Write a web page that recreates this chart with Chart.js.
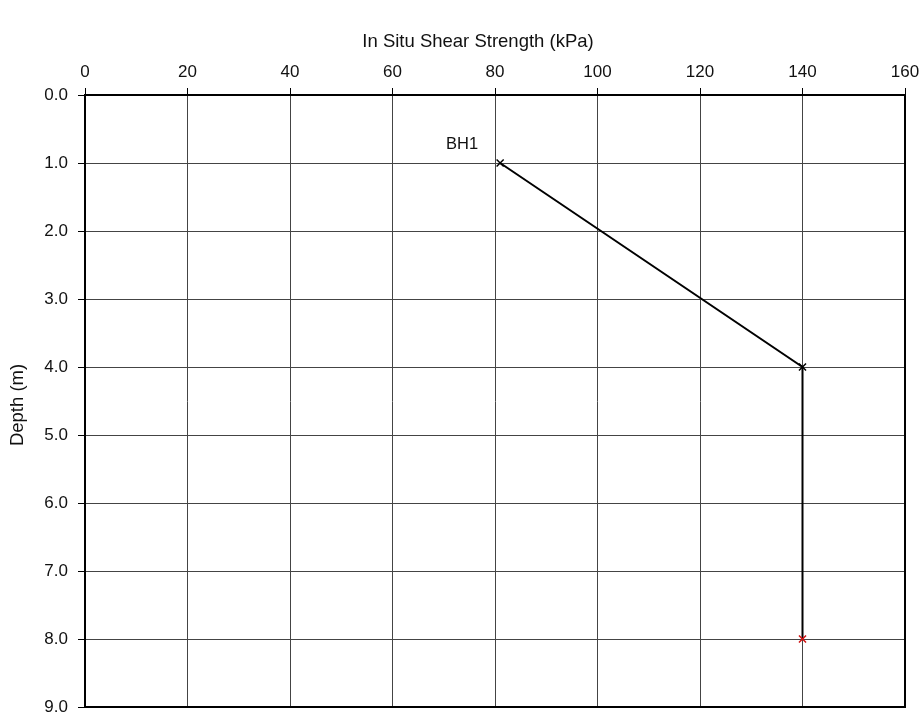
<!DOCTYPE html>
<html>
<head>
<meta charset="utf-8">
<script src="https://cdn.jsdelivr.net/npm/chart.js@4.4.1/dist/chart.umd.min.js"></script>
<style>
  html, body { margin: 0; padding: 0; background: #fff; }
  #wrap { width: 921px; height: 717px; }
</style>
</head>
<body>
<div id="wrap"><canvas id="c" width="921" height="717"></canvas></div>
<script>
// Borehole BH1: shear strength vs depth
const boreholeName = 'BH1';
const depthM = [1.0, 4.0, 8.0];
const strengthKPa = [81, 140, 140];
const markerColors = ['#000000', '#000000', '#d01010'];
const xTitle = 'In Situ Shear Strength (kPa)';
const yTitle = 'Depth (m)';
const xTickStep = 20;
const yTickStep = 1;

const points = depthM.map((d, i) => ({ x: strengthKPa[i], y: d }));

const FONT = "'Liberation Sans', Arial, sans-serif";

// Frame around the plot area, axis titles and the borehole label
const framePlugin = {
  id: 'frame',
  afterDraw(chart) {
    const { ctx, chartArea: a, scales } = chart;
    ctx.save();
    ctx.strokeStyle = '#000';
    ctx.lineWidth = 2;
    ctx.strokeRect(a.left, a.top, a.right - a.left, a.bottom - a.top);

    ctx.fillStyle = '#111';
    ctx.textAlign = 'center';
    ctx.textBaseline = 'middle';

    ctx.font = '18.5px ' + FONT;
    ctx.fillText(xTitle, 478, 42);

    ctx.save();
    ctx.translate(18, 405);
    ctx.rotate(-Math.PI / 2);
    ctx.fillText(yTitle, 0, 0);
    ctx.restore();

    const px = scales.x.getPixelForValue(strengthKPa[0]);
    const py = scales.y.getPixelForValue(depthM[0]);
    ctx.font = '16.5px ' + FONT;
    ctx.fillText(boreholeName, px - 38, py - 19);
    ctx.restore();
  }
};

new Chart(document.getElementById('c'), {
  type: 'scatter',
  data: {
    datasets: [{
      label: boreholeName,
      data: points,
      showLine: true,
      borderColor: '#000',
      borderWidth: 2,
      pointStyle: 'crossRot',
      pointRadius: 5,
      pointBorderWidth: 1.5,
      pointBorderColor: markerColors,
      pointBackgroundColor: markerColors
    }]
  },
  options: {
    responsive: false,
    animation: false,
    layout: { padding: { left: 0, right: 16, top: 0, bottom: 10 } },
    plugins: { legend: { display: false }, tooltip: { enabled: false } },
    scales: {
      x: {
        type: 'linear',
        position: 'top',
        min: 0, max: 160,
        afterFit(s) { s.height = 95; s.paddingLeft = 0; s.paddingRight = 0; },
        ticks: { stepSize: xTickStep, color: '#111', font: { family: FONT, size: 17 }, padding: 5, maxRotation: 0 },
        grid: { color: '#444', lineWidth: 1, tickLength: 7, tickColor: '#000' },
        border: { display: true, color: '#000', width: 2 }
      },
      y: {
        type: 'linear',
        reverse: true,
        min: 0, max: 9,
        afterFit(s) { s.width = 85; s.paddingTop = 0; s.paddingBottom = 0; },
        ticks: { stepSize: yTickStep, color: '#111', font: { family: FONT, size: 17 }, padding: 10, callback: v => Number(v).toFixed(1) },
        grid: { color: '#444', lineWidth: 1, tickLength: 7, tickColor: '#000' },
        border: { display: true, color: '#000', width: 2 }
      }
    }
  },
  plugins: [framePlugin]
});
</script>
</body>
</html>
